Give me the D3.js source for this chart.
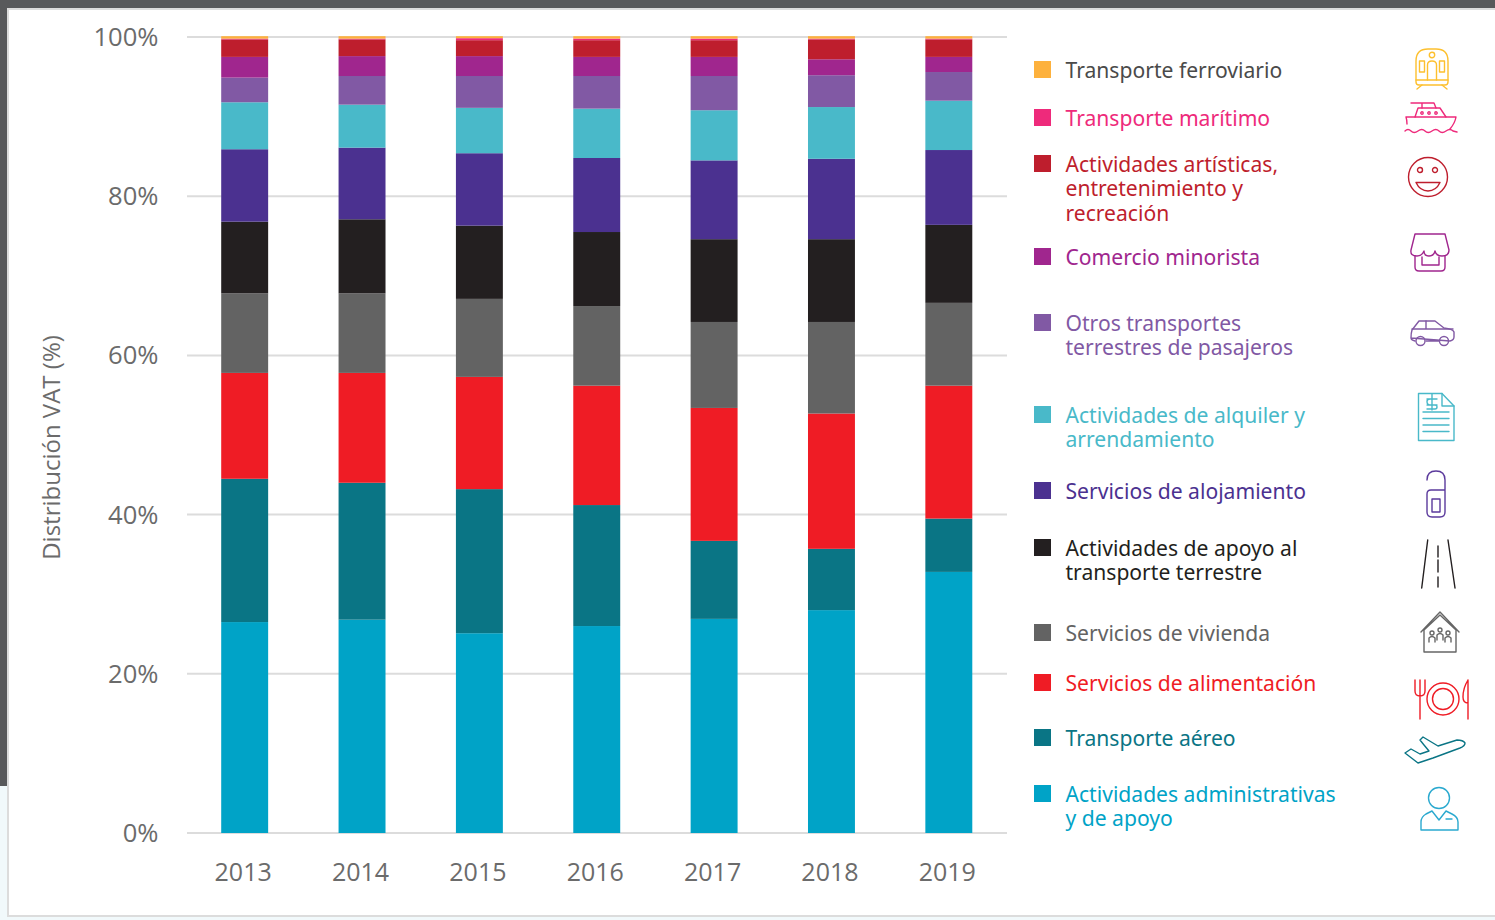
<!DOCTYPE html>
<html><head><meta charset="utf-8">
<script src="https://cdn.jsdelivr.net/npm/d3@7"></script>
<style>html,body{margin:0;padding:0;background:#f1f9fb}svg{display:block}</style>
</head><body><svg id="c" width="1495" height="920"></svg>
<script>
const years=["2013","2014","2015","2016","2017","2018","2019"];
const seriesNames=["admin","aereo","alimentacion","vivienda","apoyo","alojamiento","alquiler","otros","comercio","artisticas","maritimo","ferroviario"];
const admin=[26.5,26.8,25.1,26.0,26.9,28.0,32.8];
const aereo=[18.0,17.2,18.1,15.2,9.8,7.7,6.7];
const alimentacion=[13.3,13.8,14.1,15.0,16.7,17.0,16.7];
const vivienda=[10.0,10.0,9.8,10.0,10.8,11.5,10.4];
const apoyo=[9.0,9.3,9.2,9.3,10.4,10.4,9.8];
const alojamiento=[9.1,9.0,9.1,9.3,9.9,10.1,9.4];
const alquiler=[5.9,5.4,5.7,6.2,6.3,6.5,6.2];
const otros=[3.1,3.6,4.0,4.1,4.3,4.0,3.6];
const comercio=[2.6,2.5,2.5,2.4,2.4,2.0,1.9];
const artisticas=[2.2,2.1,2.0,2.1,2.1,2.5,2.2];
const maritimo=[0.1,0.1,0.25,0.2,0.2,0.1,0.1];
const ferroviario=[0.3,0.3,0.25,0.3,0.3,0.3,0.3];
const values=[admin,aereo,alimentacion,vivienda,apoyo,alojamiento,alquiler,otros,comercio,artisticas,maritimo,ferroviario];
const colors=["#00a3c7","#0a7585","#ef1c25","#636363","#231f20","#4b3190","#49b9c9","#8159a4","#a0268e","#be1e2d","#ee2a7b","#fdb13d"];
const legendLabels=[["Actividades administrativas","y de apoyo"],["Transporte aéreo"],["Servicios de alimentación"],["Servicios de vivienda"],["Actividades de apoyo al","transporte terrestre"],["Servicios de alojamiento"],["Actividades de alquiler y","arrendamiento"],["Otros transportes","terrestres de pasajeros"],["Comercio minorista"],["Actividades artísticas,","entretenimiento y","recreación"],["Transporte marítimo"],["Transporte ferroviario"]];
const legendTextColors=["#00a3c7","#0a7585","#ef1c25","#636363","#231f20","#4b3190","#49b9c9","#8159a4","#a0268e","#be1e2d","#ee2a7b","#4a4a4a"];
const legendY=[794,738,683,633,548,491,415,323,257,164,118,70];
const yTicks=[0,20,40,60,80,100];

const svg=d3.select("#c");
const FONT="'Open Sans',sans-serif";
// page frame
svg.append("rect").attr("x",0).attr("y",0).attr("width",1495).attr("height",920).attr("fill","#f1f9fb");
svg.append("rect").attr("x",0).attr("y",0).attr("width",1495).attr("height",8).attr("fill","#58595b");
svg.append("rect").attr("x",0).attr("y",0).attr("width",7).attr("height",786).attr("fill","#58595b");
svg.append("rect").attr("x",7).attr("y",8).attr("width",1488).attr("height",909).attr("fill","#dcdcdc");
svg.append("rect").attr("x",9).attr("y",10).attr("width",1486).attr("height",905).attr("fill","#fff");

const x=d3.scaleBand().domain(years).range([186,1007.5]).paddingInner(0.6).paddingOuter(0.3);
const y=d3.scaleLinear().domain([0,100]).range([833,37]);

const grid=svg.append("g");
grid.selectAll("line").data(yTicks).join("line")
 .attr("x1",187).attr("x2",1007).attr("y1",d=>y(d)).attr("y2",d=>y(d))
 .attr("stroke","#dcdcdc").attr("stroke-width",2);
svg.append("g").selectAll("text").data(yTicks).join("text")
 .attr("x",158.5).attr("y",d=>y(d)+9).attr("text-anchor","end")
 .attr("font-family",FONT).attr("font-size",25.6).attr("font-weight",400).attr("fill","#6b6b6b")
 .text(d=>d+"%");

const table=years.map((yr,i)=>{const o={year:yr};seriesNames.forEach((s,j)=>o[s]=values[j][i]);return o;});
const stacked=d3.stack().keys(seriesNames)(table);
svg.append("g").selectAll("g").data(stacked).join("g").attr("fill",(d,i)=>colors[i])
 .selectAll("rect").data(d=>d).join("rect")
 .attr("x",d=>x(d.data.year)).attr("width",x.bandwidth())
 .attr("y",d=>y(d[1])).attr("height",d=>y(d[0])-y(d[1]));

svg.append("g").selectAll("text").data(years).join("text")
 .attr("x",d=>x(d)+x.bandwidth()/2-1.5).attr("y",881).attr("text-anchor","middle")
 .attr("font-family",FONT).attr("font-size",25).attr("font-weight",400).attr("fill","#6b6b6b").text(d=>d);

svg.append("text").attr("transform","translate(60,447.5) rotate(-90)").attr("text-anchor","middle")
 .attr("font-family",FONT).attr("font-size",24).attr("font-weight",400).attr("fill","#6b6b6b").text("Distribución VAT (%)");

// legend
const lg=svg.append("g");
seriesNames.forEach((s,i)=>{
 lg.append("rect").attr("x",1034).attr("y",legendY[i]-9).attr("width",17).attr("height",17).attr("fill",colors[i]);
 const t=lg.append("text").attr("font-family","'Noto Sans',sans-serif").attr("font-size",21.1).attr("fill",legendTextColors[i]);
 legendLabels[i].forEach((l,k)=>t.append("tspan").attr("x",1065.5).attr("y",legendY[i]+8+k*24.3).text(l));
});

// icons (line pictograms beside the legend)
function icon(cx,cy,col,paths){
 const g=svg.append("g").attr("transform",`translate(${cx},${cy})`).attr("fill","none").attr("stroke",col).attr("stroke-width",1.4).attr("stroke-linecap","round").attr("stroke-linejoin","round");
 paths.forEach(p=>g.append("path").attr("d",p));
}
const circ=(x,y,r)=>`M${x-r},${y}a${r},${r} 0 1,0 ${2*r},0a${r},${r} 0 1,0 ${-2*r},0`;
icon(1432,68,"#fdc02f",["M-16,14V-7Q-16,-19 -4,-19H4Q16,-19 16,-7V14Q16,17 13,17H-13Q-16,17 -16,14Z","M-16,12H16",circ(0,-13,2.7),"M-4.5,12V-3Q-4.5,-7 0,-7Q4.5,-7 4.5,-3V12","M-12.5,-7h5v11h-5z","M7.5,-7h5v11h-5z","M-10,17L-15,21M10,17L15,21"]);
icon(1431,118,"#ee2a7b",["M-24,6Q-24,2 -25,-1H25Q24,5 19,11","M-16,-1L-13,-10H9L15,-1","M-20,-15H3L5,-10M-9,-15V-10",circ(-9,-5,1.2),circ(-2,-5,1.2),circ(5,-5,1.2),"M-26,13Q-23,10 -20,13T-13,13T-6,13T1,13T8,13T15,13T22,13L26,14"]);
icon(1428,177,"#be1e2d",[circ(0,0,19.5),circ(-8,-7,2.5),circ(7,-7,2.5),"M-12,5.5H12Q8,14 0,14Q-8,14 -12,5.5Z"]);
icon(1430,253,"#a0268e",["M-15,-19H15L19,-3Q19,3 12,3Q6,3 5,-2Q4,3 -1,3Q-6,3 -6,-2Q-8,3 -13,3Q-20,3 -19,-3Z","M-15,3V14Q-15,18 -11,18H11Q15,18 15,14V3","M-8,4V12H9V4"]);
icon(1432,333,"#8159a4",["M-21,5Q-21,7 -17,8M-6,8H7M18,8Q22,7 22,4V-1Q21,-4 12,-5L3,-12H-13L-20,-3Q-21,0 -21,5Z","M-20,-4H21M-6,-12V-4",circ(-11.5,8,4.5),circ(12,8,4.5)]);
icon(1436,417,"#49b9c9",["M-17.5,-23.5V23.5H18V-11L6,-23.5Z","M6,-23.5V-11H18","M-13,-5H13M-13,1.5H13M-13,8H13M-13,14.5H13","M-9,-18H1M-9,-12H1M-4,-23V-7M1,-18H-6Q-9,-18 -9,-15.5Q-9,-12 -6,-12H-1Q1,-12 1,-10Q1,-8 -1,-8H-9"]);
icon(1436,494,"#5b3a9c",["M-9,-14Q-9,-23 0,-23Q9,-23 9,-14V18Q9,23 4,23H-4Q-9,23 -9,18V0Q-9,-4 -5,-4H9","M-4,5H4V18H-4Z"]);
icon(1438,564,"#231f20",["M-10.3,-24L-16.3,24M10,-24L17,24","M0,-18V-7M0,-4V8M0,13V23"]);
icon(1440,633,"#666",["M-19,-1L0,-21L19,-1M-16,-3L0,-18L16,-3M-16,-3V19H16V-3",circ(-8,0,2),circ(0,-3,2),circ(8,0,2),"M-11,9V5Q-8,2 -5,5V9M-3,7V2Q0,-1 3,2V7M5,9V5Q8,2 11,5V9"]);
icon(1442,698,"#ef1c25",["M-27,-18V-7Q-27,-2 -22,-2Q-17,-2 -17,-7V-18M-22,-18V21","M26,-18V21M26,-18Q21,-10 21,-1Q21,5 26,5",circ(1,1,16),circ(1,1,10.5)]);
icon(1435,749,"#0a7585",["M-30,4L-24,0L-15,5L-6,2L-11,-4L-15,-9L-12,-12L3,-3L22,-9Q28,-9 30,-6Q30,-3 25,-1L-2,9L-17,14Z"]);
icon(1439,808,"#2aa9cf",[circ(0,-10,10.5),"M-18,22V14Q-18,9 -13,6L-7,3L0,12L7,3L13,6Q19,9 19,14V22Z","M7,11H13"]);
</script></body></html>
